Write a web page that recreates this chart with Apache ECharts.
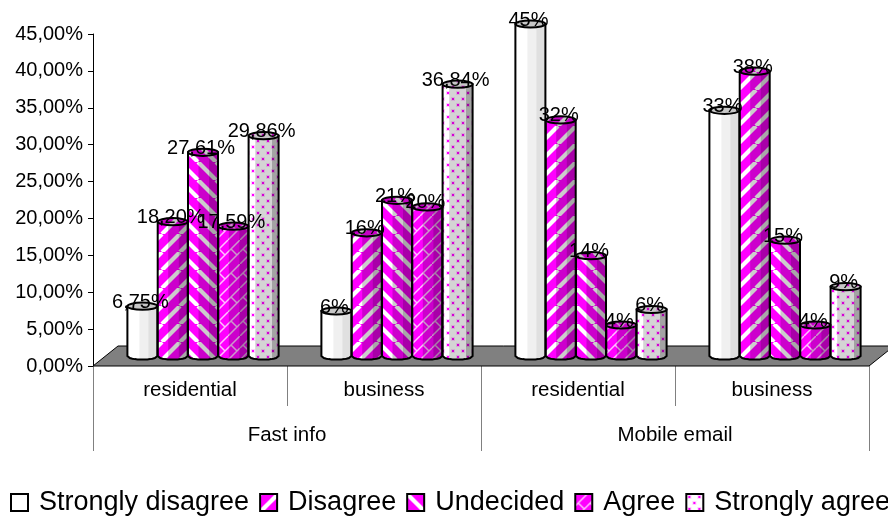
<!DOCTYPE html>
<html>
<head>
<meta charset="utf-8">
<style>html,body{margin:0;padding:0;background:#fff}#c{width:888px;height:517px}</style>
<script src="https://cdn.jsdelivr.net/npm/echarts@6/dist/echarts.min.js"></script>
</head>
<body>
<div id="c"></div>
<script>
const innerCategories = ['residential', 'business', 'residential', 'business'];
const outerCategories = ['Fast info', 'Mobile email'];
const seriesNames = ['Strongly disagree', 'Disagree', 'Undecided', 'Agree', 'Strongly agree'];
const stronglyDisagree = [6.75, 6.1, 45, 33.3];
const disagree = [18.2, 16.7, 32, 38.6];
const undecided = [27.61, 21.1, 13.6, 15.7];
const agree = [17.59, 20.2, 4.2, 4.2];
const stronglyAgree = [29.86, 36.84, 6.3, 9.4];
const stronglyDisagreeLabels = ['6,75%', '6%', '45%', '33%'];
const disagreeLabels = ['18,20%', '16%', '32%', '38%'];
const undecidedLabels = ['27,61%', '21%', '14%', '15%'];
const agreeLabels = ['17,59%', '20%', '4%', '4%'];
const stronglyAgreeLabels = ['29,86%', '36,84%', '6%', '9%'];
const yTickLabels = ['0,00%', '5,00%', '10,00%', '15,00%', '20,00%', '25,00%', '30,00%', '35,00%', '40,00%', '45,00%'];

const FONT = '"Liberation Sans", Arial, sans-serif';
const MAGENTA = '#ff00ff';

function tile(w, h, draw) {
  const c = document.createElement('canvas');
  c.width = w; c.height = h;
  const g = c.getContext('2d');
  draw(g, w, h);
  return { image: c, repeat: 'repeat' };
}
function stripes(up) {
  const P = 18;
  return tile(P, P, (g, w, h) => {
    g.fillStyle = MAGENTA; g.fillRect(0, 0, w, h);
    g.strokeStyle = '#fff'; g.lineWidth = 4.2;
    for (let k = -1; k <= 1; k++) {
      g.beginPath();
      if (up) { g.moveTo(k * P, P); g.lineTo(k * P + P, 0); }
      else { g.moveTo(k * P, 0); g.lineTo(k * P + P, P); }
      g.stroke();
    }
  });
}
const patterns = [
  '#ffffff',
  stripes(true),
  stripes(false),
  tile(24, 24, (g, w, h) => {
    g.fillStyle = MAGENTA; g.fillRect(0, 0, w, h);
    g.strokeStyle = '#ffc0ff'; g.lineWidth = 1.5;
    g.beginPath();
    g.moveTo(0, 12); g.lineTo(12, 0);
    g.moveTo(0, 24); g.lineTo(24, 0);
    g.moveTo(12, 24); g.lineTo(24, 12);
    g.moveTo(3, 9); g.lineTo(9, 15);
    g.moveTo(15, 9); g.lineTo(21, 15);
    g.stroke();
  }),
  tile(10, 12, (g, w, h) => {
    g.fillStyle = '#fff'; g.fillRect(0, 0, w, h);
    g.fillStyle = '#ffd0ff';
    g.fillRect(1, 1, 4, 4); g.fillRect(6, 7, 4, 4);
    g.fillStyle = MAGENTA;
    g.fillRect(2, 2, 2, 2); g.fillRect(7, 8, 2, 2);
  })
];
const bandAlphas = [
  [0, 0.06, 0.12],
  [0, 0.2, 0.34],
  [0, 0.2, 0.34],
  [0, 0.2, 0.34],
  [0, 0.17, 0.36]
];
const bandStops = [
  [0, 0.4, 0.7, 1],
  [0, 0.35, 0.7, 1],
  [0, 0.35, 0.7, 1],
  [0, 0.35, 0.7, 1],
  [0, 0.22, 0.78, 1]
];
const allValues = [stronglyDisagree, disagree, undecided, agree, stronglyAgree];
const allLabels = [stronglyDisagreeLabels, disagreeLabels, undecidedLabels, agreeLabels, stronglyAgreeLabels];

const BAR_W = 30, BAR_STEP = 30.3, RY = 3.6, DEPTH_X = 13, DEPTH_Y = 10;

function slice(cx0, rx, top, base, f0, f1) {
  const pts = [];
  const n = 12;
  const xa = cx0 - rx + 2 * rx * f0, xb = cx0 - rx + 2 * rx * f1;
  pts.push([xa, top + Math.sqrt(Math.max(0, 1 - Math.pow((xa - cx0) / rx, 2))) * RY]);
  for (let i = 0; i <= n; i++) {
    const x = xa + (xb - xa) * i / n;
    const t = (x - cx0) / rx;
    pts.push([x, base + Math.sqrt(Math.max(0, 1 - t * t)) * RY]);
  }
  pts.push([xb, top + Math.sqrt(Math.max(0, 1 - Math.pow((xb - cx0) / rx, 2))) * RY]);
  return pts;
}

function makeRender(si) {
  return function (params, api) {
    const idx = api.value(0), val = api.value(1);
    const topP = api.coord([idx, val]);
    const baseP = api.coord([idx, 0]);
    const cx = topP[0] + DEPTH_X + (si - 2) * BAR_STEP;
    const top = topP[1] - DEPTH_Y, base = baseP[1] - DEPTH_Y;
    const rx = BAR_W / 2;
    const children = [];
    children.push({ type: 'polygon', z2: 10, shape: { points: slice(cx, rx, top, base, 0, 1) }, style: { fill: patterns[si], stroke: null } });
    const stops = bandStops[si], alphas = bandAlphas[si];
    for (let b = 0; b < 3; b++) {
      if (!alphas[b]) continue;
      children.push({ type: 'polygon', z2: 11, shape: { points: slice(cx, rx, top, base, stops[b], stops[b + 1]) }, style: { fill: 'rgba(0,0,0,' + alphas[b] + ')', stroke: null } });
    }
    const outline = slice(cx, rx, top, base, 0, 1);
    children.push({ type: 'polygon', z2: 12, shape: { points: outline }, style: { fill: 'none', stroke: '#000', lineWidth: 2 } });
    children.push({ type: 'ellipse', z2: 13, shape: { cx: cx, cy: top, rx: rx, ry: RY }, style: { fill: patterns[si], stroke: '#000', lineWidth: 2 } });
    children.push({ type: 'ellipse', z2: 14, shape: { cx: cx, cy: top, rx: rx, ry: RY }, style: { fill: 'rgba(0,0,0,0.22)', stroke: null } });
    children.push({ type: 'text', z2: 100, style: { text: allLabels[si][idx], x: cx - 2, y: top - 4, fill: '#000', font: '20px ' + FONT, textAlign: 'center', textVerticalAlign: 'middle' } });
    return { type: 'group', children: children };
  };
}

const series = seriesNames.map((name, si) => ({
  name: name,
  type: 'custom',
  xAxisIndex: 0,
  yAxisIndex: 0,
  clip: false,
  itemStyle: { color: patterns[si], borderColor: '#000', borderWidth: 2 },
  encode: { x: 0, y: 1 },
  data: allValues[si].map((v, i) => [i, v]),
  renderItem: makeRender(si)
}));
series.unshift({
  type: 'custom',
  silent: true,
  clip: false,
  xAxisIndex: 0,
  yAxisIndex: 0,
  data: [[0, 0]],
  encode: { x: 0, y: 1 },
  renderItem: function (params, api) {
    const s = params.coordSys;
    const y0 = api.coord([0, 0])[1];
    return {
      type: 'polygon', z2: 1,
      shape: { points: [[s.x, y0], [s.x + s.width, y0], [s.x + s.width + 25, y0 - 20], [s.x + 25, y0 - 20]] },
      style: { fill: '#808080', stroke: '#000', lineWidth: 1 }
    };
  }
});

const chart = echarts.init(document.getElementById('c'), null, { renderer: 'canvas' });
chart.setOption({
  animation: false,
  backgroundColor: '#fff',
  textStyle: { fontFamily: FONT },
  grid: { left: 93, right: 19, top: 34, bottom: 151, containLabel: false },
  xAxis: [
    {
      type: 'category', data: innerCategories, position: 'bottom',
      axisLine: { show: false },
      axisTick: { show: true, length: 40, alignWithLabel: false, lineStyle: { color: '#808080', width: 1 } },
      axisLabel: { color: '#000', fontSize: 20.5, fontFamily: FONT, margin: 14 }
    },
    {
      type: 'category', data: outerCategories, position: 'bottom',
      axisLine: { show: false },
      axisTick: { show: true, length: 85, lineStyle: { color: '#808080', width: 1 } },
      axisLabel: { color: '#000', fontSize: 20.5, fontFamily: FONT, margin: 59 }
    }
  ],
  yAxis: {
    type: 'value', min: 0, max: 45, interval: 5,
    splitLine: { show: false },
    axisLine: { show: true, lineStyle: { color: '#000', width: 1 } },
    axisTick: { show: true, length: 5, lineStyle: { color: '#000', width: 1 } },
    axisLabel: { color: '#000', fontSize: 20, fontFamily: FONT, margin: 10,
      formatter: (v) => yTickLabels[Math.round(v / 5)] }
  },
  legend: {
    data: seriesNames.map((n, si) => ({ name: n, icon: 'rect', itemStyle: { color: patterns[si], borderColor: '#000', borderWidth: 2 } })),
    left: 10, top: 489, width: 1200, orient: 'horizontal',
    itemWidth: 17, itemHeight: 17, itemGap: 10, selectedMode: false,
    padding: 0,
    textStyle: { color: '#000', fontSize: 27, fontFamily: FONT, padding: [0, 0, 0, 6] }
  },
  series: series
});
</script>
</body>
</html>
